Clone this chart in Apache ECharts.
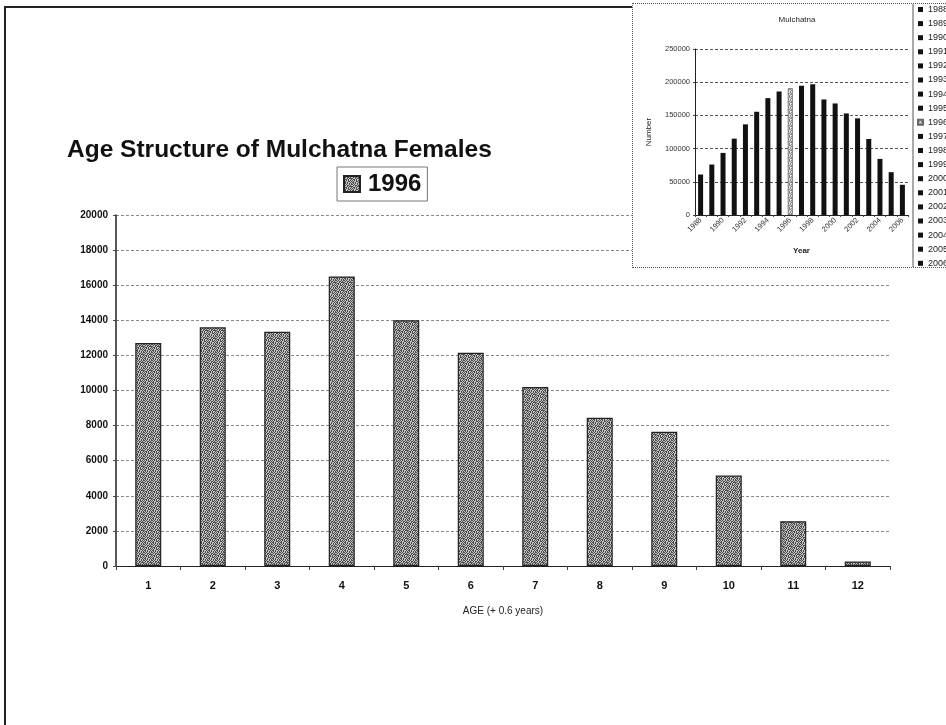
<!DOCTYPE html>
<html>
<head>
<meta charset="utf-8">
<script src="https://cdn.jsdelivr.net/npm/echarts@6/dist/echarts.min.js"></script>
<style>
  html, body { margin: 0; padding: 0; background: #fff; }
  #page { position: relative; width: 946px; height: 725px; overflow: hidden; }
  #frame { position: absolute; left: 4px; top: 6px; width: 960px; height: 740px;
           border-left: 2px solid #222; border-top: 2px solid #222; }
  #main { position: absolute; left: 0; top: 0; width: 946px; height: 725px; }
  #inset { position: absolute; left: 632px; top: 3px; width: 330px; height: 263px;
           background: #fff; border: 1px dotted #555; overflow: hidden; }
  #insetChart { position: absolute; left: 0; top: 0; width: 330px; height: 300px; }
</style>
</head>
<body>
<div id="page">
  <div id="frame"></div>
  <div id="main"></div>
  <div id="inset"><div id="insetChart"></div></div>
</div>
<script>
// main chart: female age structure, 1996
const ages = ['1', '2', '3', '4', '5', '6', '7', '8', '9', '10', '11', '12']
const females1996 = [12700, 13600, 13350, 16500, 14000, 12150, 10200, 8450, 7650, 5150, 2550, 250]
const countTicks = { min: 0, max: 20000, step: 2000 }

// inset chart: herd size by year
const herdYears = ['1988', '1989', '1990', '1991', '1992', '1993', '1994', '1995', '1996', '1997',
  '1998', '1999', '2000', '2001', '2002', '2003', '2004', '2005', '2006']
const herdSizes = [61000, 76000, 93500, 115000, 136500, 155500, 176000, 186000, 191000, 194500,
  197000, 174000, 168000, 153000, 145500, 114500, 84500, 64500, 45500]
const herdTicks = { min: 0, max: 250000, step: 50000 }

const FONT = '"Liberation Sans", Arial, sans-serif'
const plain = v => String(v)

// stipple fill like the photocopied bars
const makeStipple = (dark, light) => {
  const rows = [
    '#.#..#.#',
    '.#.##.#.',
    '#..#.###',
    '.##.#..#',
    '#.#.#.#.',
    '.#..##.#',
    '##.#..#.',
    '.#.#.#.#'
  ]
  const c = document.createElement('canvas')
  c.width = 8
  c.height = 8
  const ctx = c.getContext('2d')
  rows.forEach((row, y) => {
    for (let x = 0; x < row.length; x++) {
      ctx.fillStyle = row[x] === '#' ? dark : light
      ctx.fillRect(x, y, 1, 1)
    }
  })
  return { image: c, repeat: 'repeat' }
}

const barFill = makeStipple('#4a4a4a', '#c4c4c4')
const lightFill = makeStipple('#888', '#e4e4e4')

const mainChart = echarts.init(document.getElementById('main'))
mainChart.setOption({
  animation: false,
  backgroundColor: 'transparent',
  title: {
    text: 'Age Structure of Mulchatna Females',
    left: 62,
    top: 133,
    textStyle: { fontFamily: FONT, fontSize: 24.5, fontWeight: 'bold', color: '#111' }
  },
  legend: {
    data: ['1996'],
    left: 337,
    top: 167,
    padding: [5, 6, 5, 6],
    borderColor: '#777',
    borderWidth: 1,
    itemWidth: 16,
    itemHeight: 16,
    itemGap: 6,
    icon: 'rect',
    textStyle: { fontFamily: FONT, fontSize: 24, fontWeight: 'bold', color: '#111', padding: [0, 0, 0, 3] }
  },
  grid: { left: 116, right: 56, top: 215, bottom: 159, containLabel: false },
  xAxis: {
    type: 'category',
    data: ages,
    name: 'AGE (+ 0.6 years)',
    nameLocation: 'middle',
    nameGap: 40,
    nameTextStyle: { fontFamily: FONT, fontSize: 10, color: '#222' },
    axisLine: { lineStyle: { color: '#222', width: 1 } },
    axisTick: { show: true, length: 4, lineStyle: { color: '#444' } },
    axisLabel: { fontFamily: FONT, fontSize: 11, fontWeight: 'bold', color: '#111', margin: 14 }
  },
  yAxis: {
    type: 'value',
    min: countTicks.min,
    max: countTicks.max,
    interval: countTicks.step,
    axisLine: { show: true, lineStyle: { color: '#222', width: 1.5 } },
    axisTick: { show: true, length: 3, lineStyle: { color: '#444' } },
    axisLabel: { fontFamily: FONT, fontSize: 10, fontWeight: 'bold', color: '#111', margin: 8, formatter: plain },
    splitLine: { lineStyle: { color: '#8a8a8a', type: [3, 2], width: 1 } }
  },
  series: [
    {
      name: '1996',
      type: 'bar',
      data: females1996,
      barWidth: 26,
      itemStyle: { color: barFill, borderColor: '#222', borderWidth: 1.2 }
    }
  ]
})

const insetChart = echarts.init(document.getElementById('insetChart'))
insetChart.setOption({
  animation: false,
  backgroundColor: '#fff',
  title: {
    text: 'Mulchatna',
    left: 159,
    textAlign: 'center',
    top: 7,
    textStyle: { fontFamily: FONT, fontSize: 8, fontWeight: 'normal', color: '#222' }
  },
  legend: {
    orient: 'vertical',
    left: 280,
    top: -3,
    padding: [4, 3, 4, 4],
    borderColor: '#555',
    borderWidth: 1,
    itemWidth: 5,
    itemHeight: 5,
    itemGap: 5.1,
    icon: 'rect',
    textStyle: { fontFamily: FONT, fontSize: 9, color: '#222', lineHeight: 8 },
    data: herdYears
  },
  grid: { left: 62, top: 45, width: 213, height: 166 },
  xAxis: {
    type: 'category',
    data: herdYears,
    name: 'Year',
    nameLocation: 'middle',
    nameGap: 32,
    nameTextStyle: { fontFamily: FONT, fontSize: 8, fontWeight: 'bold', color: '#222' },
    axisLine: { lineStyle: { color: '#222' } },
    axisTick: { show: true, length: 2, interval: 0, lineStyle: { color: '#444' } },
    axisLabel: { interval: 1, rotate: 45, fontFamily: FONT, fontSize: 7.5, color: '#333', margin: 4 }
  },
  yAxis: {
    type: 'value',
    min: herdTicks.min,
    max: herdTicks.max,
    interval: herdTicks.step,
    name: 'Number',
    nameLocation: 'middle',
    nameGap: 42,
    nameTextStyle: { fontFamily: FONT, fontSize: 8, color: '#222' },
    axisLine: { show: true, lineStyle: { color: '#222' } },
    axisTick: { show: true, length: 2, lineStyle: { color: '#444' } },
    axisLabel: { fontFamily: FONT, fontSize: 7.5, color: '#333', margin: 5, formatter: plain },
    splitLine: { lineStyle: { color: '#555', type: [3, 2] } }
  },
  series: herdYears.map((year, i) => ({
    name: year,
    type: 'bar',
    barWidth: 5,
    barGap: '-100%',
    data: herdSizes.map((v, j) => (j === i ? v : '-')),
    itemStyle: year === '1996'
      ? { color: lightFill, borderColor: '#666', borderWidth: 0.8 }
      : { color: '#111' }
  }))
})

window.addEventListener('resize', () => {
  mainChart.resize()
  insetChart.resize()
})
</script>
</body>
</html>
